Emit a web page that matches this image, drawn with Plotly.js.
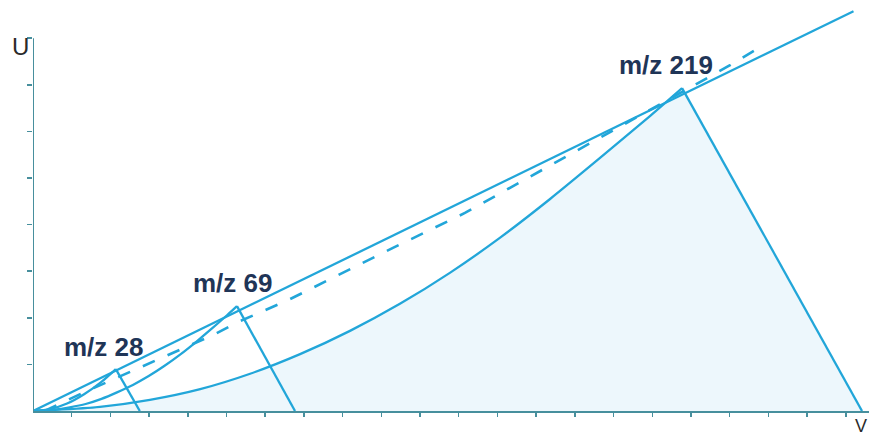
<!DOCTYPE html>
<html>
<head>
<meta charset="utf-8">
<script src="https://cdn.plot.ly/plotly-3.0.1.min.js"></script>
<style>html,body{margin:0;padding:0;background:#fff;}#chart{width:871px;height:436px;}</style>
</head>
<body>
<div id="chart"></div>
<script>
// Scan line (solid) and resolution-scaled scan line (dashed), V/U units
const scanV = [0, 21.2];
const scanU = [0, 8.58];
const dashV = [0.3, 1.29, 4.65, 5.30, 6.59, 9.30, 11.16, 13.67, 15.94, 18.01, 18.79];
const dashU = [0, 0.39, 1.63, 1.91, 2.38, 3.50, 4.25, 5.41, 6.46, 7.42, 7.81];

// Stability regions: left boundary curve ending at the apex, then a straight leg to the foot on the V axis
const mz219V = [0, 1.73, 3.02, 4.32, 5.61, 6.90, 8.19, 9.48, 10.78, 12.07, 13.36, 14.65, 15.94, 16.77];
const mz219U = [0, 0.09, 0.24, 0.47, 0.80, 1.22, 1.72, 2.30, 2.97, 3.72, 4.55, 5.43, 6.33, 6.93];
const mz219Foot = 21.42;
const mz69V = [0, 0.55, 0.95, 1.36, 1.77, 2.17, 2.58, 2.99, 3.40, 3.80, 4.21, 4.61, 5.02, 5.27];
const mz69U = [0, 0.03, 0.08, 0.15, 0.26, 0.40, 0.56, 0.75, 0.97, 1.21, 1.48, 1.76, 2.06, 2.25];
const mz69Foot = 6.77;
const mz28V = [0, 0.44, 0.88, 1.32, 1.76, 2.14];
const mz28U = [0, 0.04, 0.16, 0.36, 0.62, 0.90];
const mz28Foot = 2.76;

// Labels
const labelText = ['m/z 28', 'm/z 69', 'm/z 219'];
const labelV = [1.83, 5.17, 16.36];
const labelU = [1.37, 2.75, 7.42];

const xTicks = Array.from({length: 21}, (_, i) => i + 1);
const yTicks = [1, 2, 3, 4, 5, 6, 7, 8];

const lineColor = '#22a6d9';
const axisColor = '#478f9d';
const lw = 2.3;

function region(V, U, foot) {
  const n = V.length - 1;
  return [
    {x: V, y: U, mode: 'lines', line: {color: lineColor, width: lw, shape: 'spline', smoothing: 0.8}},
    {x: [V[n], foot], y: [U[n], 0], mode: 'lines', line: {color: lineColor, width: lw}}
  ];
}

const traces = [
  {x: mz219V.concat([mz219Foot]), y: mz219U.concat([0]), mode: 'lines', fill: 'toself', fillcolor: '#edf7fc',
   line: {width: 0, color: 'rgba(0,0,0,0)'}},
  ...region(mz219V, mz219U, mz219Foot),
  ...region(mz69V, mz69U, mz69Foot),
  ...region(mz28V, mz28U, mz28Foot),
  {x: dashV, y: dashU, mode: 'lines', line: {color: lineColor, width: 2.6, dash: '13px,14px'}},
  {x: scanV, y: scanU, mode: 'lines', line: {color: lineColor, width: lw}}
];

const annotations = labelText.map((t, i) => ({
  x: labelV[i], y: labelU[i], xref: 'x', yref: 'y', text: t, showarrow: false,
  font: {family: 'Liberation Sans, Arial, sans-serif', size: 26, color: '#1f3557', weight: 'bold'},
  xanchor: 'center', yanchor: 'middle'
}));
annotations.push({x: -0.0155, y: 0.887, xref: 'paper', yref: 'paper', text: 'U', showarrow: false,
  font: {family: 'Liberation Sans, Arial, sans-serif', size: 24, color: '#2a2a2a'}, xanchor: 'center', yanchor: 'middle'});
annotations.push({x: 0.99, y: -0.036, xref: 'paper', yref: 'paper', text: 'V', showarrow: false,
  font: {family: 'Liberation Sans, Arial, sans-serif', size: 18, color: '#2a2a2a'}, xanchor: 'center', yanchor: 'middle'});

const layout = {
  width: 871, height: 436,
  margin: {l: 33, r: 2, t: 0, b: 25},
  paper_bgcolor: '#ffffff', plot_bgcolor: '#ffffff',
  showlegend: false,
  xaxis: {range: [0, 21.6], showgrid: false, zeroline: false, showline: true, linecolor: axisColor, linewidth: 2,
          tickvals: xTicks, ticks: 'outside', ticklen: 4, tickwidth: 1.5, tickcolor: axisColor, showticklabels: false, fixedrange: true},
  yaxis: {range: [0, 8.82], showgrid: false, zeroline: false, showline: false,
          tickvals: yTicks, ticks: 'outside', ticklen: 5, tickwidth: 1.5, tickcolor: axisColor, showticklabels: false, fixedrange: true},
  shapes: [{type: 'line', xref: 'x', yref: 'y', x0: 0, x1: 0, y0: 0, y1: 8, line: {color: axisColor, width: 2}}],
  annotations: annotations
};

Plotly.newPlot('chart', traces, layout, {staticPlot: true, displayModeBar: false});
</script>
</body>
</html>
